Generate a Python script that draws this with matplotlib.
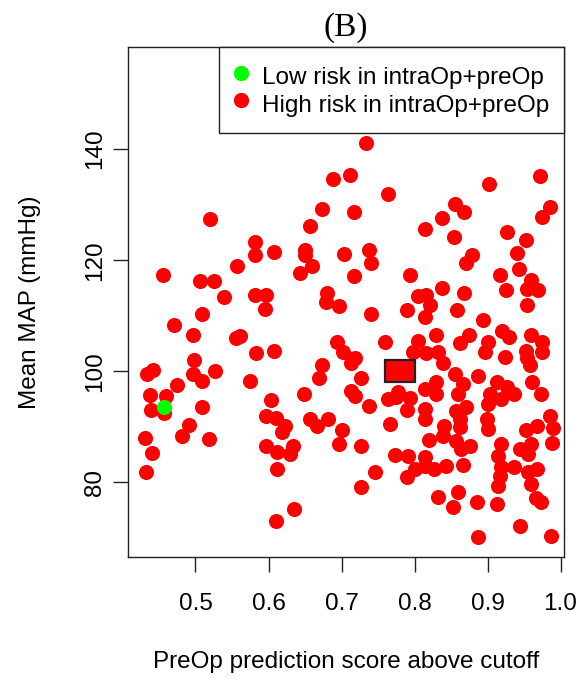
import matplotlib
matplotlib.use("Agg")
import matplotlib.pyplot as plt
from matplotlib.patches import Rectangle
from matplotlib.lines import Line2D

plt.rcParams['font.family'] = ['Liberation Sans', 'DejaVu Sans']

# patients flagged low risk by the intraOp+preOp model
low_score = [0.457]
low_map = [93.5]

# patients flagged high risk by the intraOp+preOp model
high_score = [
    0.520, 0.582, 0.581, 0.607, 0.557, 0.455, 0.506, 0.526, 0.539, 0.581,
    0.596, 0.595, 0.509, 0.470, 0.496, 0.555, 0.561,
    0.733, 0.688, 0.711, 0.764, 0.673, 0.717, 0.657, 0.814, 0.650, 0.650,
    0.659, 0.643, 0.703, 0.737, 0.740, 0.717, 0.794, 0.680, 0.679, 0.696,
    0.741, 0.789, 0.805, 0.694, 0.760, 0.805,
    0.972, 0.902, 0.856, 0.868, 0.838, 0.854, 0.985, 0.974, 0.926, 0.952,
    0.941, 0.879, 0.871, 0.943, 0.917, 0.959, 0.954, 0.969, 0.925, 0.837,
    0.816, 0.821, 0.814, 0.868, 0.858, 0.894, 0.829, 0.875, 0.920, 0.930,
    0.954, 0.959, 0.975, 0.901, 0.862,
    0.816, 0.832, 0.896, 0.924, 0.952, 0.975, 0.954, 0.958, 0.839, 0.855,
    0.887, 0.830, 0.814, 0.830, 0.867, 0.860, 0.913, 0.926, 0.936, 0.903,
    0.901, 0.919, 0.961, 0.973, 0.871, 0.857, 0.814, 0.814, 0.862, 0.899,
    0.901, 0.841, 0.862, 0.986, 0.989, 0.968, 0.953, 0.820, 0.839, 0.857,
    0.876, 0.864, 0.919, 0.945, 0.959, 0.956, 0.988, 0.814, 0.915, 0.919,
    0.936, 0.917, 0.915, 0.956, 0.968, 0.959, 0.867, 0.827, 0.843, 0.814,
    0.832, 0.860, 0.852, 0.886, 0.913, 0.966, 0.973, 0.944, 0.887, 0.987,
    0.442, 0.433, 0.498, 0.497, 0.509, 0.527, 0.474, 0.583, 0.608, 0.574,
    0.438, 0.460, 0.439, 0.457, 0.509, 0.491, 0.482, 0.518, 0.431, 0.440,
    0.432, 0.604, 0.597, 0.610, 0.597, 0.612, 0.612, 0.610,
    0.702, 0.718, 0.713, 0.798, 0.673, 0.669, 0.726, 0.648, 0.713, 0.719,
    0.737, 0.764, 0.774, 0.778, 0.794, 0.789, 0.767, 0.623, 0.619, 0.657,
    0.666, 0.681, 0.700, 0.697, 0.727, 0.633, 0.630, 0.773, 0.791, 0.801,
    0.789, 0.746, 0.727, 0.635,
]
high_map = [
    127.4, 123.2, 121.0, 121.4, 118.9, 117.4, 116.2, 116.3, 113.3, 113.8,
    113.8, 111.2, 110.4, 108.4, 106.6, 105.9, 106.3,
    141.1, 134.6, 135.4, 132.0, 129.3, 128.6, 126.1, 125.7, 121.9, 120.9,
    119.0, 117.7, 121.1, 121.9, 119.5, 117.1, 117.3, 114.1, 112.5, 111.7,
    110.4, 111.1, 113.5, 105.3, 105.3, 105.4,
    135.2, 133.7, 130.2, 128.7, 127.6, 124.1, 129.5, 127.7, 125.1, 123.6,
    121.3, 120.9, 119.5, 118.4, 117.4, 116.4, 114.9, 114.6, 114.7, 115.0,
    113.7, 112.0, 109.8, 114.1, 111.0, 109.3, 106.6, 106.5, 107.2, 106.2,
    112.0, 106.5, 105.3, 105.3, 105.0,
    103.2, 103.5, 103.5, 102.6, 103.7, 103.5, 102.3, 101.2, 101.4, 99.5,
    99.2, 98.1, 96.8, 95.9, 97.7, 95.9, 98.1, 97.2, 95.9, 95.9,
    94.1, 95.0, 98.1, 95.9, 93.5, 92.9, 93.2, 91.4, 91.4, 91.4,
    89.6, 90.2, 89.9, 92.0, 89.8, 90.1, 89.5, 87.7, 88.4, 87.5,
    86.6, 86.0, 86.9, 86.0, 86.9, 85.1, 87.1, 84.5, 84.7, 82.7,
    82.7, 81.2, 79.4, 81.8, 82.4, 79.7, 83.2, 82.4, 83.0, 83.0,
    77.3, 78.2, 75.5, 76.4, 76.1, 77.2, 76.4, 72.2, 70.1, 70.4,
    100.3, 99.5, 102.1, 99.5, 98.2, 100.1, 97.6, 103.2, 103.6, 98.2,
    95.8, 95.5, 93.1, 92.5, 93.5, 90.4, 88.3, 87.8, 88.0, 85.3,
    81.9, 94.9, 91.9, 91.6, 86.5, 85.5, 82.4, 73.1,
    103.5, 102.3, 101.4, 103.5, 101.2, 98.8, 98.8, 95.9, 96.5, 95.6,
    93.7, 95.0, 95.4, 96.3, 95.2, 93.1, 90.5, 90.1, 89.0, 91.4,
    90.1, 91.4, 89.5, 86.9, 86.5, 86.5, 85.1, 85.0, 84.8, 82.4,
    80.9, 81.9, 79.1, 75.2,
]

# reference box (cutoff centre)
box_x = [0.76, 0.80]
box_y = [98, 102]

x_ticks = [0.5, 0.6, 0.7, 0.8, 0.9, 1.0]
y_ticks = [80, 100, 120, 140]

fig = plt.figure(figsize=(5.83, 6.79), dpi=100)
ax = fig.add_axes([0.2201, 0.1801, 0.7478, 0.7507])

ax.scatter(high_score, high_map, s=118, color='#ff0000', linewidths=0, zorder=2)
ax.scatter(low_score, low_map, s=118, color='#00ff00', linewidths=0, zorder=3)
ax.add_patch(Rectangle((box_x[0], box_y[0]), box_x[1] - box_x[0], box_y[1] - box_y[0],
                       facecolor='#ff0000', edgecolor='#222222', linewidth=1.6, zorder=4))

ax.set_xlim(0.408, 1.0051)
ax.set_ylim(66.6, 158.4)
ax.set_xticks(x_ticks)
ax.set_xticklabels(['%.1f' % v for v in x_ticks])
ax.set_yticks(y_ticks)
ax.set_yticklabels([str(v) for v in y_ticks])

for sp in ax.spines.values():
    sp.set_linewidth(1.0)
    sp.set_color('#222222')

ax.tick_params(axis='both', direction='out', length=10.8, width=1.0,
               color='#222222', labelsize=17.5)
ax.tick_params(axis='x', pad=15)
ax.tick_params(axis='y', pad=5.4)
plt.setp(ax.get_yticklabels(), rotation=90, va='center')

handles = [
    Line2D([], [], marker='o', linestyle='none', color='#00ff00', markersize=10),
    Line2D([], [], marker='o', linestyle='none', color='#ff0000', markersize=10),
]
leg = ax.legend(handles, ['Low risk in intraOp+preOp', 'High risk in intraOp+preOp'],
                loc='upper right', bbox_to_anchor=(1, 1), borderaxespad=0,
                fontsize=17.5, fancybox=False, framealpha=1, edgecolor='#222222',
                borderpad=0.6, labelspacing=-0.1, handleheight=1.5,
                handlelength=0.6, handletextpad=0.6)
leg.get_frame().set_linewidth(1.0)

fig.text(346 / 583, 1 - 27.5 / 679, '(B)', family=['Liberation Serif', 'DejaVu Serif'],
         fontsize=24, ha='center', va='center')
fig.text(346 / 583, 1 - 662 / 679, 'PreOp prediction score above cutoff',
         fontsize=17.5, ha='center', va='center')
fig.text(30 / 583, 1 - 302 / 679, 'Mean MAP (mmHg)', fontsize=17.5,
         rotation=90, ha='center', va='center')

fig.savefig('out.png', dpi=100)
